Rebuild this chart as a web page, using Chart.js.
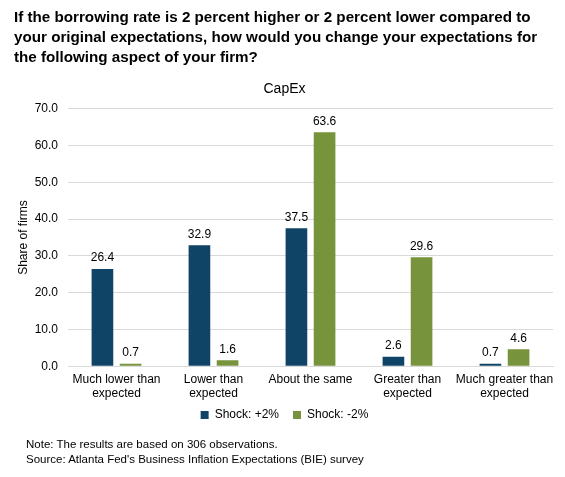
<!DOCTYPE html>
<html><head><meta charset="utf-8">
<script src="https://cdn.jsdelivr.net/npm/chart.js@4/dist/chart.umd.min.js"></script>
<style>
html,body{margin:0;padding:0;background:#fff;width:565px;height:477px;overflow:hidden;font-family:Arial,"Liberation Sans",sans-serif;}
#wrap{position:absolute;left:0;top:0;width:565px;height:477px;}
#head{position:absolute;left:14px;top:7px;width:535px;font-weight:bold;font-size:15.2px;line-height:20px;color:#000;}
#note{position:absolute;left:26px;top:437px;font-size:11.5px;line-height:15px;color:#000;}
</style></head>
<body>
<div id="wrap"><canvas id="c" width="565" height="477"></canvas></div>
<div id="head">If the borrowing rate is 2 percent higher or 2 percent lower compared to your original expectations, how would you change your expectations for the following aspect of your firm?</div>
<div id="note">Note: The results are based on 306 observations.<br>Source: Atlanta Fed's Business Inflation Expectations (BIE) survey</div>
<script>
const categories = [["Much lower than","expected"],["Lower than","expected"],"About the same",["Greater than","expected"],["Much greater than","expected"]];
const shockUp = [26.4, 32.9, 37.5, 2.6, 0.7];
const shockDown = [0.7, 1.6, 63.6, 29.6, 4.6];
const seriesNames = ["Shock: +2%", "Shock: -2%"];
const chartTitle = "CapEx";
const yTitle = "Share of firms";

const FONT = 'Arial, "Liberation Sans", sans-serif';
const valueLabels = {
  id: 'valueLabels',
  afterDatasetsDraw(chart){
    const ctx = chart.ctx;
    ctx.save();
    ctx.font = '12px ' + FONT;
    ctx.fillStyle = '#000';
    ctx.textAlign = 'center';
    ctx.textBaseline = 'bottom';
    chart.data.datasets.forEach((ds, i) => {
      chart.getDatasetMeta(i).data.forEach((bar, j) => {
        ctx.fillText(ds.data[j].toFixed(1), bar.x, bar.y - 5);
      });
    });
    ctx.restore();
  }
};
const legendShift = {
  id: 'legendShift',
  afterLayout(chart){
    if (chart.legend) { chart.legend.top -= 12; chart.legend.bottom -= 12; }
  }
};

new Chart(document.getElementById('c'), {
  type: 'bar',
  data: {
    labels: categories,
    datasets: [
      {label: seriesNames[0], data: shockUp, backgroundColor: '#0f4466', categoryPercentage: 0.58, barPercentage: 0.77},
      {label: seriesNames[1], data: shockDown, backgroundColor: '#77933c', categoryPercentage: 0.58, barPercentage: 0.77}
    ]
  },
  options: {
    responsive: false,
    animation: false,
    devicePixelRatio: 1,
    layout: {padding: {left: 16, right: 12, top: 81, bottom: 34}},
    plugins: {
      title: {display: true, text: chartTitle, color: '#000', font: {family: FONT, size: 14, weight: 'normal'}, padding: {top: 0, bottom: 11}},
      legend: {position: 'bottom', labels: {boxWidth: 8, boxHeight: 8, color: '#000', font: {family: FONT, size: 12}, padding: 14}},
      tooltip: {enabled: false}
    },
    scales: {
      x: {
        grid: {display: false, drawTicks: false},
        border: {color: '#d9d9d9'},
        ticks: {color: '#000', font: {family: FONT, size: 12}, padding: 6, maxRotation: 0, autoSkip: false}
      },
      y: {
        min: 0, max: 70,
        afterFit(s){ s.width = 52; },
        grid: {color: '#d9d9d9', drawTicks: false},
        border: {display: false},
        ticks: {stepSize: 10, color: '#000', font: {family: FONT, size: 12}, padding: 10, callback: v => v.toFixed(1)},
        title: {display: true, text: yTitle, color: '#000', font: {family: FONT, size: 12}, padding: 0}
      }
    }
  },
  plugins: [valueLabels, legendShift]
});
</script>
</body></html>
